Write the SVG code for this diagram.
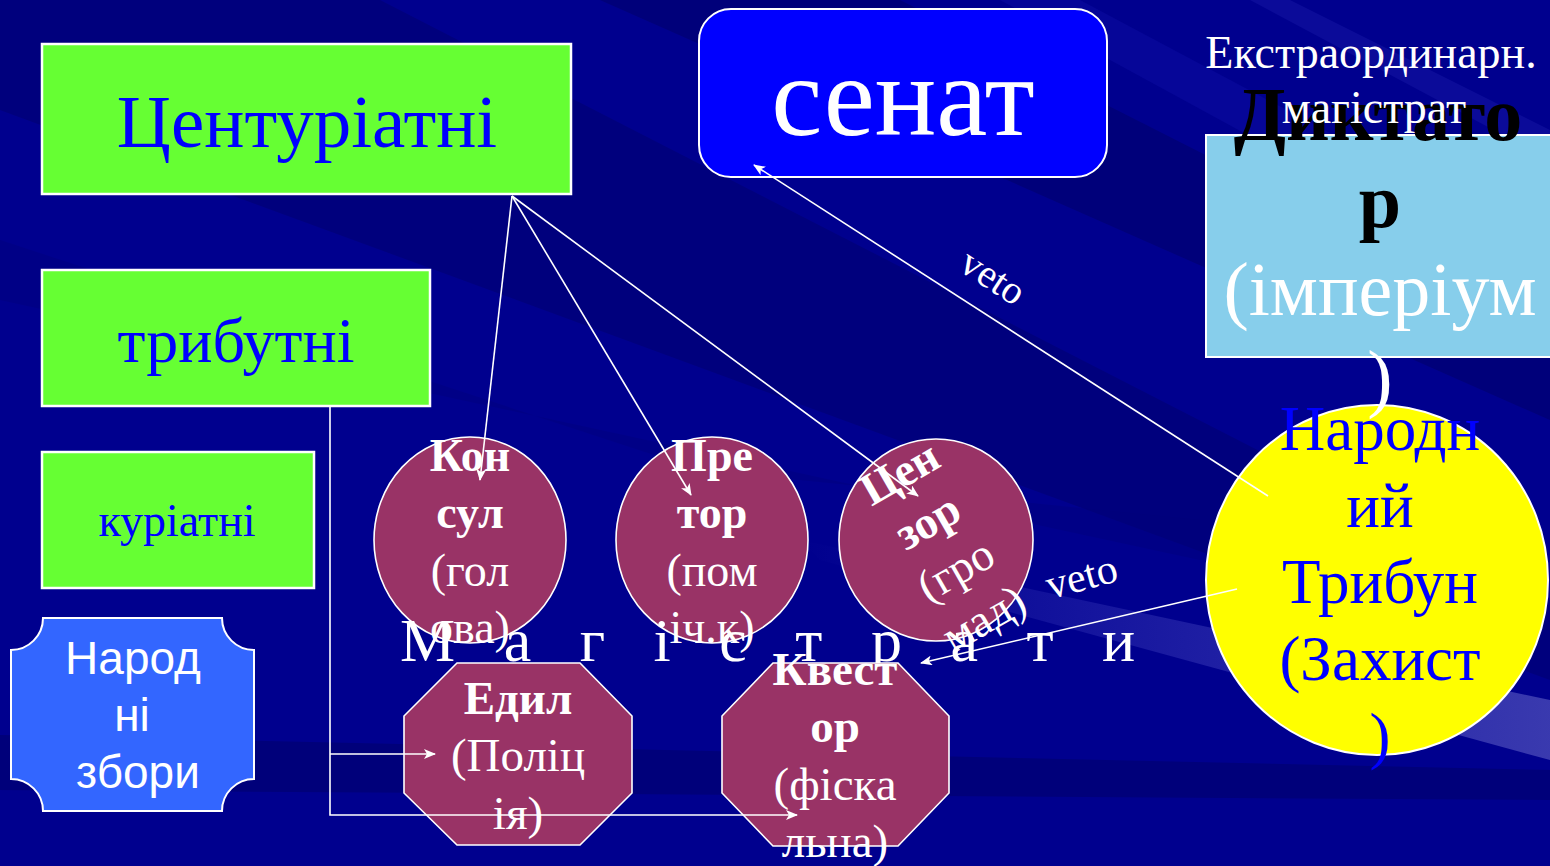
<svg xmlns="http://www.w3.org/2000/svg" width="1550" height="866" viewBox="0 0 1550 866">
<defs>
<style>
.serif{font-family:"Liberation Serif","Times New Roman",serif}
.sans{font-family:"Liberation Sans",Arial,sans-serif}
.ln{stroke:#fff;stroke-width:1.6;fill:none}
.mag{fill:#993366;stroke:#fff;stroke-width:1.6}
.grn{fill:#66FF33;stroke:#fff;stroke-width:2.5}
.wt{fill:#fff}
.bt{fill:#0000FF}
.b{font-weight:bold}
</style>
<marker id="ar" viewBox="0 0 12 10" refX="11" refY="5" markerWidth="12" markerHeight="10" markerUnits="userSpaceOnUse" orient="auto">
<path d="M0,0 L12,5 L0,10 L3,5 z" fill="#fff"/>
</marker>
<linearGradient id="streak" x1="0" y1="0" x2="1" y2="0">
<stop offset="0" stop-color="#8080ff" stop-opacity="0"/>
<stop offset="1" stop-color="#9090e0" stop-opacity="0.4"/>
</linearGradient>
</defs>
<g id="background">
<rect width="1550" height="866" fill="#00008E"/>
<polygon points="0,0 380,0 1550,600 1550,680 0,110" fill="#000070" opacity="0.55"/>
<polygon points="600,0 900,0 1550,330 1550,420" fill="#000066" opacity="0.5"/>
<polygon points="0,240 700,470 1200,520 1200,560 0,300" fill="#00007A" opacity="0.4"/>
<polygon points="0,735 1550,770 1550,800 0,790" fill="#000066" opacity="0.5"/>
<polygon points="1000,0 1080,0 1550,250 1550,300" fill="#1010A8" opacity="0.4"/>
<polygon points="1250,0 1290,0 1550,130 1550,160" fill="#2020B0" opacity="0.35"/>
<polygon points="800,540 1550,700 1550,760 820,560" fill="url(#streak)"/>
</g>
<g id="centuriatni">
<rect class="grn" x="42" y="44" width="529" height="150"/>
<text class="serif bt" x="307" y="147" font-size="75" text-anchor="middle">Центуріатні</text>
</g>
<g id="tributni">
<rect class="grn" x="42" y="270" width="388" height="136"/>
<text class="serif bt" x="236" y="362" font-size="64" text-anchor="middle">трибутні</text>
</g>
<g id="kuriatni">
<rect class="grn" x="42" y="452" width="272" height="136"/>
<text class="serif bt" x="177" y="536" font-size="46" text-anchor="middle">куріатні</text>
</g>
<g id="narodni-zbory">
<path d="M43,618 H222 A32,32 0 0 0 254,650 V779 A32,32 0 0 0 222,811 H43 A32,32 0 0 0 11,779 V650 A32,32 0 0 0 43,618 Z" fill="#3366FF" stroke="#fff" stroke-width="2"/>
<text class="sans wt" font-size="46" text-anchor="middle"><tspan x="133" y="674">Народ</tspan><tspan x="132" y="731">ні</tspan><tspan x="138" y="788">збори</tspan></text>
</g>
<g id="senat">
<rect x="699" y="9" width="408" height="168" rx="32" ry="32" fill="#0000FF" stroke="#fff" stroke-width="2"/>
<text class="serif wt" x="903" y="135" font-size="115" text-anchor="middle">сенат</text>
</g>
<g id="tribun">
<ellipse cx="1377" cy="580" rx="171" ry="175" fill="#FFFF00" stroke="#fff" stroke-width="2"/>
<text class="serif bt" font-size="63" text-anchor="middle"><tspan x="1380" y="450">Народн</tspan><tspan x="1380" y="527">ий</tspan><tspan x="1380" y="603">Трибун</tspan><tspan x="1380" y="680">(Захист</tspan><tspan x="1380" y="757">)</tspan></text>
</g>
<g id="dyktator">
<rect x="1206" y="135" width="350" height="222" fill="#87CEEB" stroke="#fff" stroke-width="2"/>
<text class="serif" font-size="76" text-anchor="middle"><tspan class="b" fill="#000" x="1378" y="140">Диктато</tspan><tspan class="b" fill="#000" x="1380" y="227">р</tspan><tspan fill="#fff" x="1380" y="315">(імперіум</tspan><tspan fill="#fff" x="1380" y="403">)</tspan></text>
</g>
<g id="ekstra">
<text class="serif wt" font-size="46" text-anchor="middle"><tspan x="1371" y="68">Екстраординарн.</tspan><tspan x="1374" y="123">магістрат</tspan></text>
</g>
<g id="konsul">
<ellipse class="mag" cx="470" cy="540" rx="96" ry="103"/>
<text class="serif wt" font-size="46" text-anchor="middle"><tspan class="b" x="470" y="471">Кон</tspan><tspan class="b" x="470" y="528">сул</tspan><tspan x="470" y="586">(гол</tspan><tspan x="470" y="643">ова)</tspan></text>
</g>
<g id="pretor">
<ellipse class="mag" cx="712" cy="540" rx="96" ry="103"/>
<text class="serif wt" font-size="46" text-anchor="middle"><tspan class="b" x="712" y="471">Пре</tspan><tspan class="b" x="712" y="528">тор</tspan><tspan x="712" y="586">(пом</tspan><tspan x="712" y="643">іч.к)</tspan></text>
</g>
<g id="tsenzor">
<ellipse class="mag" cx="936" cy="540" rx="97" ry="101"/>
<text class="serif wt" font-size="46" text-anchor="middle" transform="rotate(-30 936 540)"><tspan class="b" x="938" y="479">Цен</tspan><tspan class="b" x="938" y="535">зор</tspan><tspan x="938" y="591">(гро</tspan><tspan x="938" y="647">мад)</tspan></text>
</g>
<g id="magistraty">
<text class="serif wt" x="400" y="661" font-size="62" word-spacing="33">М а г і с т р а т и</text>
</g>
<g id="edyl">
<polygon class="mag" points="457,663 580,663 632,716 632,793 580,845 457,845 404,793 404,716"/>
<text class="serif wt" font-size="47" text-anchor="middle"><tspan class="b" x="518" y="714">Едил</tspan><tspan x="518" y="771">(Поліц</tspan><tspan x="518" y="829">ія)</tspan></text>
</g>
<g id="kvestor">
<polygon class="mag" points="773,663 898,663 949,716 949,793 898,846 773,846 722,793 722,716"/>
<text class="serif wt" font-size="47" text-anchor="middle"><tspan class="b" x="835" y="685">Квест</tspan><tspan class="b" x="835" y="742">ор</tspan><tspan x="835" y="800">(фіска</tspan><tspan x="835" y="857">льна)</tspan></text>
</g>
<g id="connectors">
<line class="ln" x1="512" y1="196" x2="480" y2="480" marker-end="url(#ar)"/>
<line class="ln" x1="512" y1="196" x2="691" y2="495" marker-end="url(#ar)"/>
<line class="ln" x1="512" y1="196" x2="918" y2="496" marker-end="url(#ar)"/>
<line class="ln" x1="1268" y1="496" x2="754" y2="165" marker-end="url(#ar)"/>
<line class="ln" x1="1237" y1="589" x2="921" y2="663" marker-end="url(#ar)"/>
<path class="ln" d="M330,407 V815 H797" marker-end="url(#ar)"/>
<path class="ln" d="M330,754 H435" marker-end="url(#ar)"/>
<text class="serif wt" x="986" y="288" font-size="40" text-anchor="middle" transform="rotate(33 986 288)">veto</text>
<text class="serif wt" x="1085" y="590" font-size="42" text-anchor="middle" transform="rotate(-15 1085 590)">veto</text>
</g>
</svg>
